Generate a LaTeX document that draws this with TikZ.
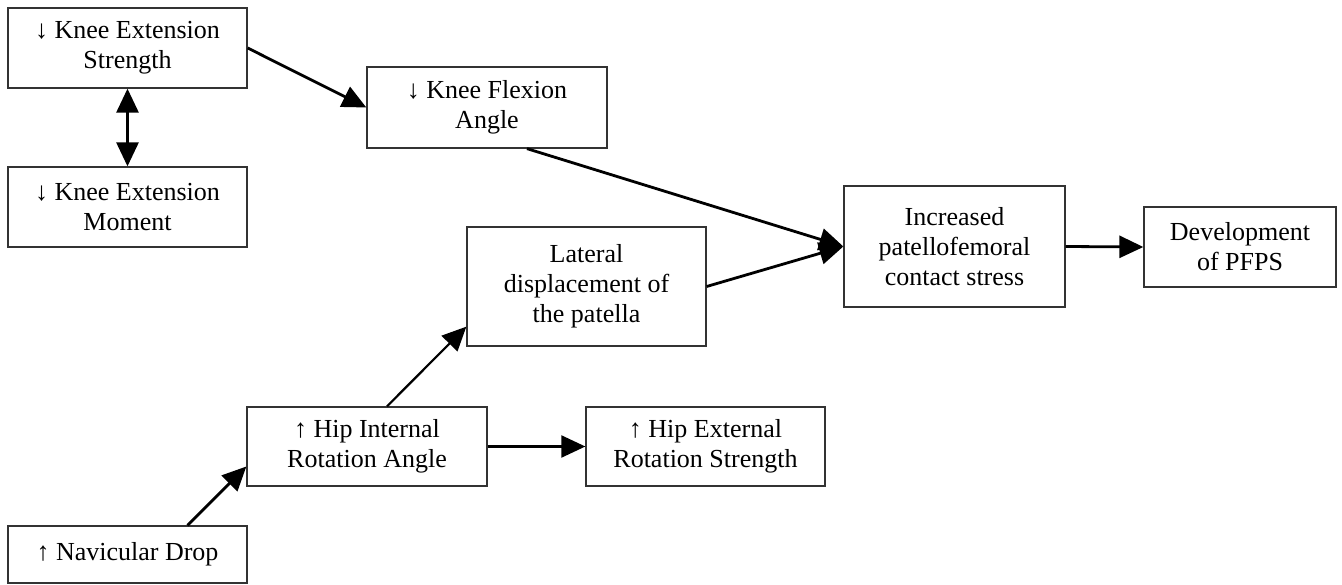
\documentclass[tikz,border=0pt]{standalone}
\usepackage{fontspec}
\setmainfont{Liberation Serif}
\usetikzlibrary{arrows.meta,calc}
\begin{document}
\begin{tikzpicture}[x=1pt,y=-1pt,
  box/.style={draw=black!80,line width=1.3pt,inner sep=0pt,align=center,
    font=\fontsize{26}{30}\selectfont},
  conn/.style={line width=2.8pt,-{Triangle[length=24pt,width=22pt]}},
  thin/.style={line width=2.2pt,-{Triangle[length=24pt,width=22pt]}}]
\useasboundingbox (0,0) rectangle (1342,585);
\node[box,minimum width=239pt,minimum height=80pt] (kes) at (127.5,48) {↓ Knee Extension\\Strength};
\node[box,minimum width=239pt,minimum height=80pt] (kem) at (127.5,207) {↓ Knee Extension\\Moment};
\node[box,minimum width=240pt,minimum height=81pt] (kfa) at (487,107.5) {↓ Knee Flexion\\Angle};
\node[box,minimum width=239pt,minimum height=119pt] (lat) at (586.5,286.5) {Lateral\\displacement of\\the patella};
\node[box,minimum width=221pt,minimum height=121pt] (inc) at (954.5,246.5) {Increased\\patellofemoral\\contact stress};
\node[box,minimum width=192pt,minimum height=80pt] (dev) at (1240,247) {Development\\of PFPS};
\node[box,minimum width=240pt,minimum height=79pt] (hin) at (367,446.5) {↑ Hip Internal\\Rotation Angle};
\node[box,minimum width=239pt,minimum height=79pt] (hex) at (705.5,446.5) {↑ Hip External\\Rotation Strength};
\node[box,minimum width=239pt,minimum height=57pt] (nav) at (127.5,554.5) {↑ Navicular Drop};
\draw[conn] (kes.east) -- (kfa.west);
\draw[line width=2.8pt,{Triangle[length=24pt,width=22pt]}-{Triangle[length=24pt,width=22pt]}] (kes.south) -- (kem.north);
\draw[conn] ($(kfa.south)+(40,0)$) -- (inc.west);
\draw[conn] (lat.east) -- (inc.west);
\draw[conn] (inc.east) -- (dev.west);
\draw[thin] (hin.east) -- (hex.west);
\draw[conn] ($(nav.north)+(60,0)$) -- ($(hin.west)+(0,20)$);
\draw[thin] ($(hin.north)+(20,0)$) -- ($(lat.south west)+(0,-20)$);
\end{tikzpicture}
\end{document}
